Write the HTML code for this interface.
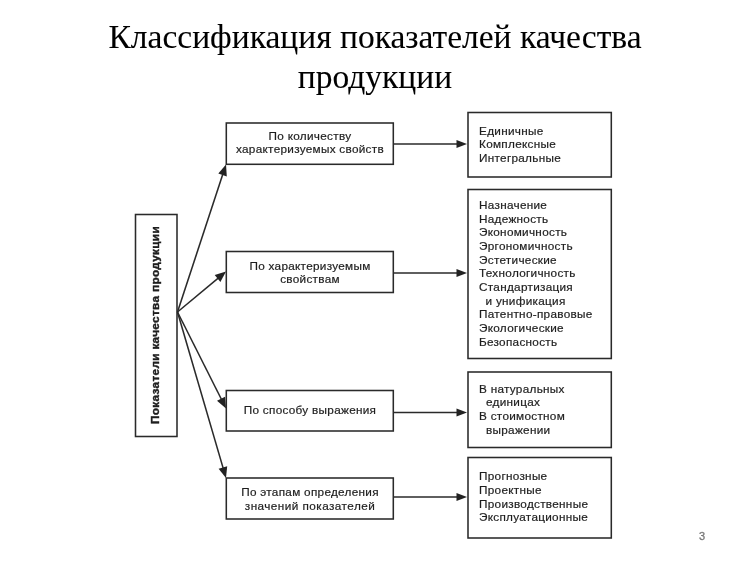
<!DOCTYPE html>
<html>
<head>
<meta charset="utf-8">
<style>
html,body{margin:0;padding:0;background:#fff;width:750px;height:561px;overflow:hidden;}
svg{position:absolute;left:0;top:0;display:block;filter:blur(0.3px);}
.t{font-family:"Liberation Serif",serif;font-size:33.5px;fill:#000;stroke:#000;stroke-width:0.08px;}
.s{font-family:"Liberation Sans",sans-serif;font-size:11.75px;fill:#1e1e1e;letter-spacing:0.29px;stroke:#1e1e1e;stroke-width:0.2px;}
.b{font-family:"Liberation Sans",sans-serif;font-size:11.75px;font-weight:bold;fill:#1e1e1e;letter-spacing:0.34px;stroke:#1e1e1e;stroke-width:0.4px;}
.pn{font-family:"Liberation Sans",sans-serif;font-size:11px;fill:#777;stroke:#777;stroke-width:0.3px;}
</style>
</head>
<body>
<svg width="750" height="561" viewBox="0 0 750 561">
<text class="t" x="375" y="48" text-anchor="middle">Классификация показателей качества</text>
<text class="t" x="375" y="88" text-anchor="middle">продукции</text>
<g fill="none" stroke="#2a2a2a" stroke-width="1.55">
<rect x="135.5" y="214.5" width="41.5" height="222"/>
<rect x="226.3" y="123" width="167.0" height="41.3"/>
<rect x="226.3" y="251.5" width="167.0" height="41.0"/>
<rect x="226.3" y="390.5" width="167.0" height="40.5"/>
<rect x="226.3" y="478" width="167.0" height="41.0"/>
<rect x="468" y="112.5" width="143.3" height="64.5"/>
<rect x="468" y="189.5" width="143.3" height="169.0"/>
<rect x="468" y="372" width="143.3" height="75.5"/>
<rect x="468" y="457.5" width="143.3" height="80.5"/>
<line x1="393.3" y1="144" x2="458" y2="144"/>
<line x1="393.3" y1="273" x2="458" y2="273"/>
<line x1="393.3" y1="412.5" x2="458" y2="412.5"/>
<line x1="393.3" y1="497" x2="458" y2="497"/>
<line x1="177.5" y1="312" x2="223.2" y2="173.0"/>
<line x1="177.5" y1="312" x2="219.1" y2="277.3"/>
<line x1="177.5" y1="312" x2="222.0" y2="400.5"/>
<line x1="177.5" y1="312" x2="223.5" y2="469.4"/>
</g>
<g fill="#222" stroke="none">
<path d="M467,144 L456.5,140 L456.5,148 Z"/>
<path d="M467,273 L456.5,269 L456.5,277 Z"/>
<path d="M467,412.5 L456.5,408.5 L456.5,416.5 Z"/>
<path d="M467,497 L456.5,493 L456.5,501 Z"/>
<path d="M226.0,164.5 L226.8,176.4 L218.3,173.5 Z"/>
<path d="M226.0,271.5 L220.4,282.0 L214.7,275.1 Z"/>
<path d="M226.0,408.5 L217.0,400.7 L225.1,396.7 Z"/>
<path d="M226.0,478.0 L218.6,468.7 L227.2,466.2 Z"/>
</g>
<text class="b" transform="translate(159,325) rotate(-90)" x="0" y="0" text-anchor="middle">Показатели качества продукции</text>
<text class="s" x="310" y="139.5" text-anchor="middle">По количеству</text>
<text class="s" x="310" y="153" text-anchor="middle">характеризуемых свойств</text>
<text class="s" x="310" y="269.5" text-anchor="middle">По характеризуемым</text>
<text class="s" x="310" y="283" text-anchor="middle">свойствам</text>
<text class="s" x="310" y="413.5" text-anchor="middle">По способу выражения</text>
<text class="s" x="310" y="496" text-anchor="middle">По этапам определения</text>
<text class="s" x="310" y="510" text-anchor="middle" style="letter-spacing:0.45px">значений показателей</text>
<text class="s" x="479" y="134.5">Единичные</text>
<text class="s" x="479" y="148.2">Комплексные</text>
<text class="s" x="479" y="162.0">Интегральные</text>
<text class="s" x="479" y="208.8">Назначение</text>
<text class="s" x="479" y="222.5">Надежность</text>
<text class="s" x="479" y="236.1">Экономичность</text>
<text class="s" x="479" y="249.8">Эргономичность</text>
<text class="s" x="479" y="263.5">Эстетические</text>
<text class="s" x="479" y="277.1">Технологичность</text>
<text class="s" x="479" y="290.8">Стандартизация</text>
<text class="s" x="485.5" y="304.5">и унификация</text>
<text class="s" x="479" y="318.2">Патентно-правовые</text>
<text class="s" x="479" y="331.8">Экологические</text>
<text class="s" x="479" y="345.5">Безопасность</text>
<text class="s" x="479" y="392.5">В натуральных</text>
<text class="s" x="486" y="406.3">единицах</text>
<text class="s" x="479" y="420.2">В стоимостном</text>
<text class="s" x="486" y="434.0">выражении</text>
<text class="s" x="479" y="480.0">Прогнозные</text>
<text class="s" x="479" y="493.7">Проектные</text>
<text class="s" x="479" y="507.5">Производственные</text>
<text class="s" x="479" y="521.2">Эксплуатационные</text>
<text class="pn" x="699" y="540">3</text>
</svg>
</body>
</html>
